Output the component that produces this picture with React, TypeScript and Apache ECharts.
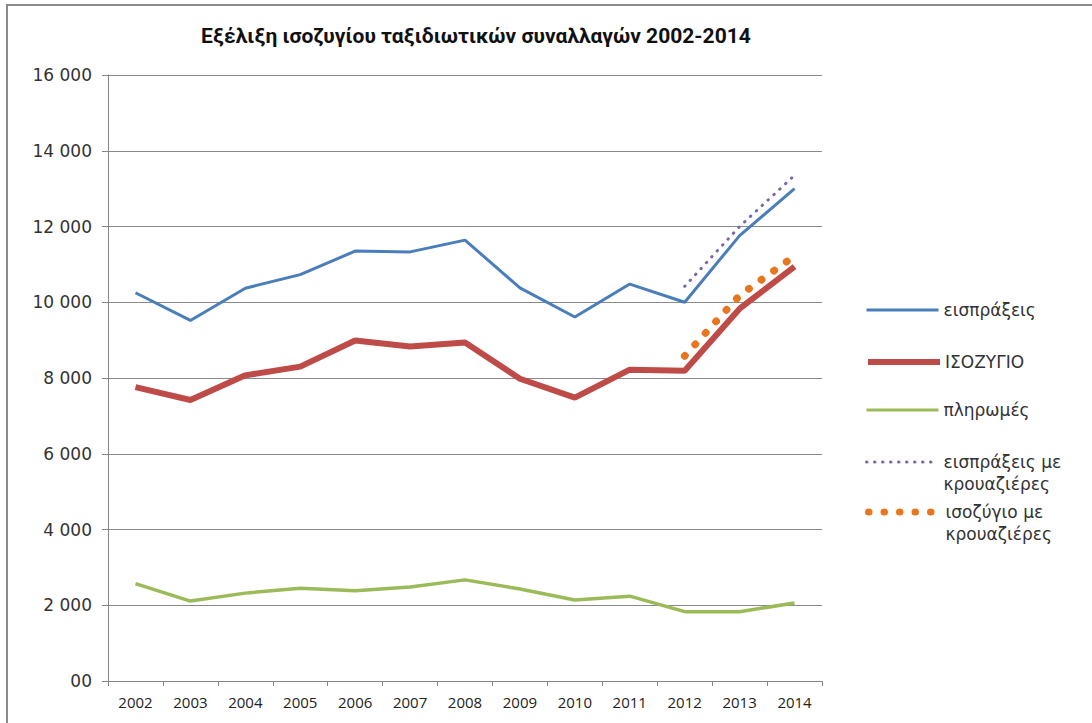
import React, { useEffect, useRef } from "react";
import * as echarts from "echarts";

const years = ["2002", "2003", "2004", "2005", "2006", "2007", "2008", "2009", "2010", "2011", "2012", "2013", "2014"];
const receipts = [10250, 9520, 10370, 10730, 11350, 11330, 11640, 10380, 9610, 10480, 10000, 11760, 13000];
const balance = [7760, 7420, 8070, 8300, 8990, 8830, 8940, 7980, 7480, 8220, 8190, 9830, 10940];
const payments = [2570, 2110, 2320, 2450, 2380, 2480, 2670, 2430, 2140, 2240, 1830, 1830, 2060];
const receiptsCruise = [null, null, null, null, null, null, null, null, null, null, 10420, 12000, 13350];
const balanceCruise = [null, null, null, null, null, null, null, null, null, null, 8580, 10180, 11220];

const names = ["εισπράξεις", "ΙΣΟΖΥΓΙΟ", "πληρωμές", "εισπράξεις με\nκρουαζιέρες", "ισοζύγιο με\nκρουαζιέρες"];
const title = "Εξέλιξη ισοζυγίου ταξιδιωτικών συναλλαγών 2002-2014";

const C_BLUE = "#4a7ebb";
const C_RED = "#be4b48";
const C_GREEN = "#9bbb59";
const C_PURPLE = "#7b68a6";
const C_ORANGE = "#e8761f";

export default function App() {
  const ref = useRef<HTMLDivElement>(null);
  useEffect(() => {
    if (!ref.current) return;
    const chart = echarts.init(ref.current, undefined, { renderer: "svg" });
    const legendFont = { fontFamily: "DejaVu Sans", fontSize: 17, color: "#333", lineHeight: 22 };
    const mkLegend = (name: string, top: number, width: number, multi: boolean) => ({
      data: [name],
      left: 865,
      top,
      orient: "vertical",
      itemWidth: 72,
      itemHeight: 14,
      itemGap: 0,
      padding: 0,
      selectedMode: false,
      lineStyle: { width },
      itemStyle: { opacity: 0 },
      formatter: multi ? (n: string) => "\n" + n : (n: string) => n,
      textStyle: legendFont,
    });
    chart.setOption({
      animation: false,
      backgroundColor: "#ffffff",
      title: {
        text: title,
        left: 196,
        top: 20,
        textStyle: { fontFamily: "Roboto", fontWeight: "bold", fontSize: 21, color: "#111" },
      },
      legend: [
        mkLegend(names[0], 299, 3, false),
        mkLegend(names[1], 351, 6, false),
        mkLegend(names[2], 399, 3, false),
        mkLegend(names[3], 429, 3, true),
        mkLegend(names[4], 479, 7, true),
      ],
      grid: { left: 108, right: 270, top: 75, bottom: 42, containLabel: false },
      xAxis: {
        type: "category",
        data: years,
        boundaryGap: true,
        axisLine: { lineStyle: { color: "#868686", width: 1 } },
        axisTick: { show: true, interval: 0, length: 5, lineStyle: { color: "#868686" } },
        axisLabel: { fontFamily: "Open Sans", fontSize: 15, color: "#222", margin: 13, interval: 0 },
      },
      yAxis: {
        type: "value",
        min: 0,
        max: 16000,
        interval: 2000,
        axisLine: { show: true, lineStyle: { color: "#868686", width: 1 } },
        axisTick: { show: true, length: 6, lineStyle: { color: "#868686" } },
        splitLine: { lineStyle: { color: "#8a8a8a", width: 1 } },
        axisLabel: {
          fontFamily: "DejaVu Sans",
          fontSize: 17,
          color: "#333",
          margin: 16,
          formatter: (v: number) => (v === 0 ? "00" : String(v).replace(/\B(?=(\d{3})+(?!\d))/g, " ")),
        },
      },
      series: [
        { name: names[0], type: "line", data: receipts, symbol: "none", lineStyle: { color: C_BLUE, width: 3 }, itemStyle: { color: C_BLUE }, z: 3 },
        { name: names[1], type: "line", data: balance, symbol: "none", lineStyle: { color: C_RED, width: 6 }, itemStyle: { color: C_RED }, z: 3 },
        { name: names[2], type: "line", data: payments, symbol: "none", lineStyle: { color: C_GREEN, width: 3.5 }, itemStyle: { color: C_GREEN }, z: 3 },
        { name: names[3], type: "line", data: receiptsCruise, symbol: "none", lineStyle: { color: C_PURPLE, width: 3, type: [0.5, 7.5], cap: "round" }, itemStyle: { color: C_PURPLE }, z: 2 },
        { name: names[4], type: "line", data: balanceCruise, symbol: "none", lineStyle: { color: C_ORANGE, width: 7.5, type: [0.5, 15], cap: "round" }, itemStyle: { color: C_ORANGE }, z: 2 },
      ],
      graphic: [
        { type: "line", shape: { x1: 6, y1: 5, x2: 1092, y2: 5 }, style: { stroke: "#8a8a8a", lineWidth: 2 } },
        { type: "line", shape: { x1: 7, y1: 5, x2: 7, y2: 723 }, style: { stroke: "#8a8a8a", lineWidth: 2 } },
      ],
    });
    return () => chart.dispose();
  }, []);
  return <div ref={ref} style={{ width: 1092, height: 723, position: "absolute", left: 0, top: 0 }} />;
}
